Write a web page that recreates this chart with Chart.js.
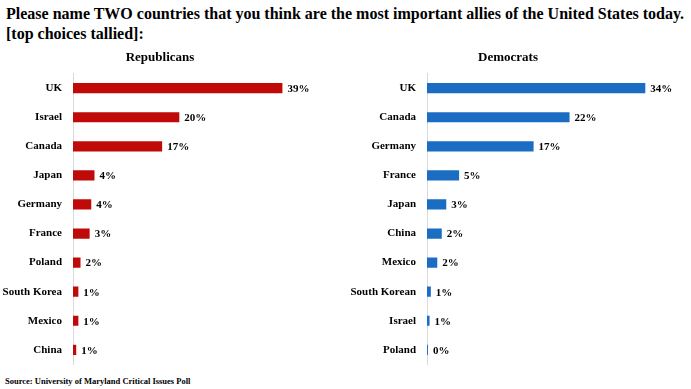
<!DOCTYPE html>
<html>
<head>
<meta charset="utf-8">
<script src="https://cdn.jsdelivr.net/npm/chart.js@4"></script>
<style>
  body { margin: 0; background: #fff; width: 691px; height: 389px; overflow: hidden; position: relative; font-family: 'Liberation Serif', serif; }
  #title { position: absolute; left: 6px; top: 4px; font: bold 16px 'Liberation Serif', serif; line-height: 20px; color: #000; white-space: nowrap; }
  #source { position: absolute; left: 5px; top: 376px; font: bold 8.5px 'Liberation Serif', serif; color: #000; }
  .box { position: absolute; top: 45px; height: 329px; }
</style>
</head>
<body>
<div id="title">Please name TWO countries that you think are the most important allies of the United States today.<br>[top choices tallied]:</div>
<div class="box" style="left:0; width:345px;"><canvas id="repChart"></canvas></div>
<div class="box" style="left:345px; width:346px;"><canvas id="demChart"></canvas></div>
<div id="source">Source: University of Maryland Critical Issues Poll</div>
<script>
//republican answers
const repCountries = ["UK", "Israel", "Canada", "Japan", "Germany", "France", "Poland", "South Korea", "Mexico", "China"];
const repValues = [39, 19.8, 16.6, 4.0, 3.4, 3.1, 1.4, 1.0, 1.0, 0.6];//bar lengths
const repLabels = ["39%", "20%", "17%", "4%", "4%", "3%", "2%", "1%", "1%", "1%"];
//democrat answers
const demCountries = ["UK", "Canada", "Germany", "France", "Japan", "China", "Mexico", "South Korean", "Israel", "Poland"];
const demValues = [34, 22.2, 16.6, 5.0, 3.0, 2.3, 1.6, 0.6, 0.4, 0.15];
const demLabels = ["34%", "22%", "17%", "5%", "3%", "2%", "2%", "1%", "1%", "0%"];

const serif = "'Liberation Serif', serif";

//draw percentage text at the end of each bar
const valueText = {
  id: "valueText",
  afterDatasetsDraw(chart, args, opts) {
    const c = chart.ctx;
    const meta = chart.getDatasetMeta(0);
    c.save();
    c.font = "bold 11px " + serif;
    c.fillStyle = "#000";
    c.textBaseline = "middle";
    meta.data.forEach((bar, i) => {
      c.fillText(opts.texts[i], bar.x + 5, bar.y + 1);
    });
    c.restore();
  }
};

function makeChart(id, title, cats, vals, texts, color, axisW, xMax, padRight) {
  return new Chart(document.getElementById(id), {
    type: "bar",
    data: {
      labels: cats,
      datasets: [{
        data: vals,
        backgroundColor: color,
        borderWidth: 0,
        categoryPercentage: 1,
        barPercentage: 0.35
      }]
    },
    options: {
      indexAxis: "y",
      responsive: true,
      maintainAspectRatio: false,
      animation: false,
      layout: { padding: { right: padRight, bottom: 4 } },
      scales: {
        x: { display: false, min: 0, max: xMax },
        y: {
          grid: { display: false },
          border: { color: "#d9d9d9", width: 1 },
          ticks: { color: "#000", font: { family: serif, size: 11, weight: "bold" }, padding: 3 },
          afterFit: s => { s.width = axisW; }
        }
      },
      plugins: {
        legend: { display: false },
        tooltip: { enabled: false },
        title: { display: true, text: title, color: "#000", font: { family: serif, size: 13, weight: "bold" }, padding: { top: 5, bottom: 8 } },
        valueText: { texts: texts }
      }
    },
    plugins: [valueText]
  });
}

//wait for the serif font so canvas text uses it
Promise.all([
  document.fonts.load("bold 11px 'Liberation Serif'"),
  document.fonts.load("bold 16px 'Liberation Serif'")
]).then(() => {
  makeChart("repChart", "Republicans", repCountries, repValues, repLabels, "#c00a0a", 73, 46, 25);
  makeChart("demChart", "Democrats", demCountries, demValues, demLabels, "#1b6dc4", 82, 38, 20);
});
</script>
</body>
</html>
